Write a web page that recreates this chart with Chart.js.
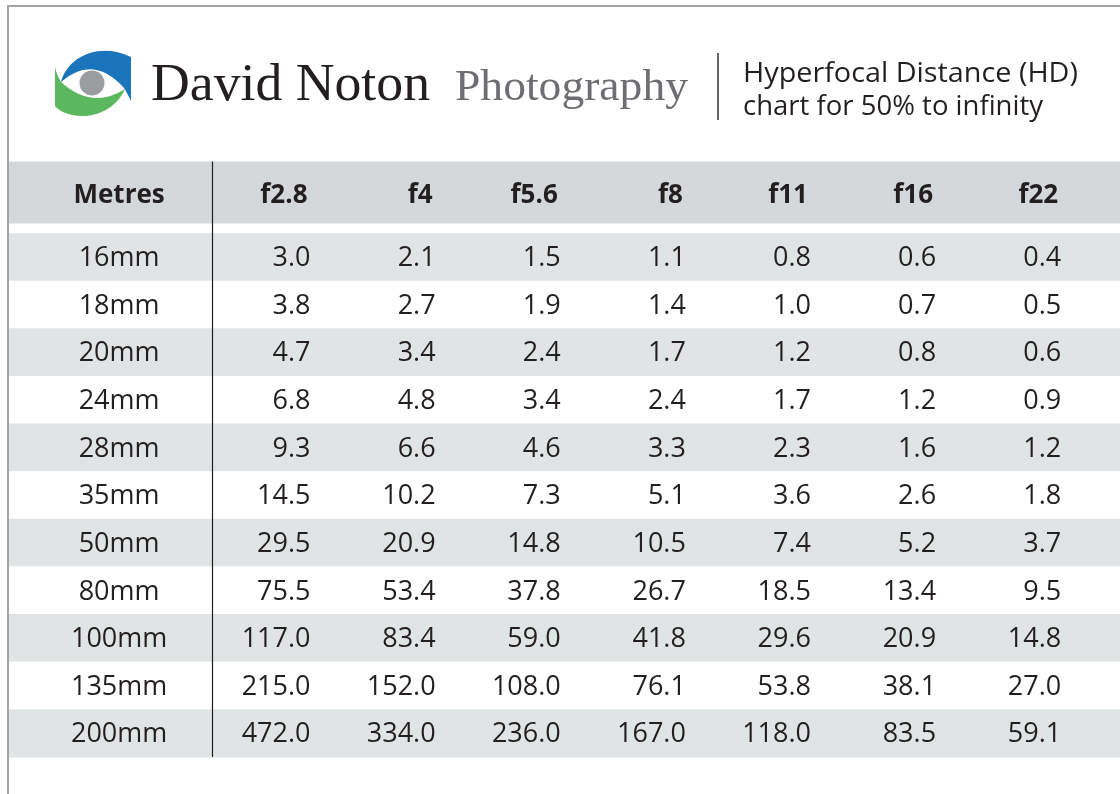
<!DOCTYPE html>
<html>
<head>
<meta charset="utf-8">
<title>Hyperfocal Distance chart</title>
<script src="https://cdn.jsdelivr.net/npm/chart.js@4.4.1/dist/chart.umd.min.js"></script>
<style>
  html, body { margin: 0; padding: 0; background: #fff; }
  body { width: 1120px; height: 794px; position: relative; overflow: hidden; }
  #frame { position: absolute; left: 7px; top: 5px; right: 0; bottom: 0;
           border-top: 2px solid #a3a3a3; border-left: 2px solid #a3a3a3; }
  #table { position: absolute; left: 9px; top: 0; }
  #head { position: absolute; left: 0; top: 0; }
</style>
</head>
<body>
<div id="frame"></div>
<canvas id="table" width="1111" height="794"></canvas>
<svg id="head" width="1120" height="140" xmlns="http://www.w3.org/2000/svg">
  <!-- eye logo -->
  <path d="M61,82 C68,56 100,42 131,57 L131,101 C128,95 126,91 124,88 Q93,54 61,82 Z" fill="#1b75bc"/>
  <path d="M55,67 L55,106 C68,121 110,122 125,89 Q92,110 61,82 C58,77 56,72 55,67 Z" fill="#5cb85f"/>
  <circle cx="92" cy="83" r="12.5" fill="#9b9ca0"/>
  <text x="151" y="100" font-family="Liberation Serif" font-size="52" fill="#231f20"
        textLength="279" lengthAdjust="spacingAndGlyphs">David Noton</text>
  <text x="455" y="100" font-family="Liberation Serif" font-size="45" fill="#6d6e71"
        textLength="233" lengthAdjust="spacingAndGlyphs">Photography</text>
  <line x1="718" y1="53" x2="718" y2="120" stroke="#333" stroke-width="1.5"/>
  <text x="743" y="82" font-family="Open Sans" font-size="27" fill="#231f20"
        textLength="335" lengthAdjust="spacingAndGlyphs">Hyperfocal Distance (HD)</text>
  <text x="743" y="115" font-family="Open Sans" font-size="27" fill="#231f20"
        textLength="300" lengthAdjust="spacingAndGlyphs">chart for 50% to infinity</text>
</svg>
<script>
// --- table data (metres) ---
const cornerLabel = 'Metres';
const focalLengths = ['16mm', '18mm', '20mm', '24mm', '28mm', '35mm', '50mm', '80mm', '100mm', '135mm', '200mm'];
const apertures = ['f2.8', 'f4', 'f5.6', 'f8', 'f11', 'f16', 'f22'];

const hdF28 = [3.0, 3.8, 4.7, 6.8, 9.3, 14.5, 29.5, 75.5, 117.0, 215.0, 472.0];
const hdF4  = [2.1, 2.7, 3.4, 4.8, 6.6, 10.2, 20.9, 53.4, 83.4, 152.0, 334.0];
const hdF56 = [1.5, 1.9, 2.4, 3.4, 4.6, 7.3, 14.8, 37.8, 59.0, 108.0, 236.0];
const hdF8  = [1.1, 1.4, 1.7, 2.4, 3.3, 5.1, 10.5, 26.7, 41.8, 76.1, 167.0];
const hdF11 = [0.8, 1.0, 1.2, 1.7, 2.3, 3.6, 7.4, 18.5, 29.6, 53.8, 118.0];
const hdF16 = [0.6, 0.7, 0.8, 1.2, 1.6, 2.6, 5.2, 13.4, 20.9, 38.1, 83.5];
const hdF22 = [0.4, 0.5, 0.6, 0.9, 1.2, 1.8, 3.7, 9.5, 14.8, 27.0, 59.1];
const columns = [hdF28, hdF4, hdF56, hdF8, hdF11, hdF16, hdF22];

// scale layout in column / row units
const COL_MIN = -1.41, COL_MAX = 7.47;
const ROW_MIN = -5.405, ROW_MAX = 11.275;
const HEADER_ROW = -1.36;
const LABEL_COL = -0.53;
const DIVIDER_COL = 0.21;

const tableText = {
  id: 'tableText',
  afterDatasetsDraw(chart) {
    const { ctx, scales: { x, y } } = chart;
    ctx.save();

    // vertical divider after the focal length column
    const top = y.getPixelForValue(HEADER_ROW - 0.65);
    const bottom = y.getPixelForValue(focalLengths.length - 0.5);
    const dx = Math.round(x.getPixelForValue(DIVIDER_COL)) + 0.5;
    ctx.strokeStyle = '#231f20';
    ctx.lineWidth = 1.2;
    ctx.beginPath();
    ctx.moveTo(dx, top);
    ctx.lineTo(dx, bottom);
    ctx.stroke();

    ctx.fillStyle = '#231f20';
    ctx.textBaseline = 'alphabetic';

    // header row
    ctx.font = 'bold 26px "Open Sans"';
    const hy = y.getPixelForValue(HEADER_ROW) + 10;
    ctx.textAlign = 'center';
    ctx.fillText(cornerLabel, x.getPixelForValue(LABEL_COL), hy);
    ctx.textAlign = 'right';
    apertures.forEach((a, j) => ctx.fillText(a, x.getPixelForValue(j + 1) - 3, hy));

    // body rows
    ctx.font = '27px "Open Sans"';
    focalLengths.forEach((f, i) => {
      const ry = y.getPixelForValue(i) + 9;
      ctx.textAlign = 'center';
      ctx.fillText(f, x.getPixelForValue(LABEL_COL), ry);
      ctx.textAlign = 'right';
      columns.forEach((col, j) => ctx.fillText(col[i].toFixed(1), x.getPixelForValue(j + 1), ry));
    });
    ctx.restore();
  }
};

const ctx = document.getElementById('table').getContext('2d');
new Chart(ctx, {
  type: 'bar',
  data: {
    datasets: [
      {
        label: 'header',
        data: [{ x: [COL_MIN, COL_MAX], y: HEADER_ROW }],
        backgroundColor: '#d5d8da',
        barPercentage: 1.3,
        categoryPercentage: 1,
        grouped: false
      },
      {
        label: 'rows',
        data: focalLengths.map((f, i) => ({ x: [COL_MIN, COL_MAX], y: i })),
        backgroundColor: focalLengths.map((f, i) => (i % 2 === 0 ? '#e1e4e5' : '#ffffff')),
        barPercentage: 1,
        categoryPercentage: 1,
        grouped: false
      }
    ]
  },
  options: {
    indexAxis: 'y',
    responsive: false,
    maintainAspectRatio: false,
    animation: false,
    layout: { padding: 0 },
    scales: {
      x: { type: 'linear', min: COL_MIN, max: COL_MAX, offset: false, display: false },
      y: { type: 'linear', min: ROW_MIN, max: ROW_MAX, reverse: true, offset: false, display: false,
           ticks: { maxTicksLimit: 2 } }
    },
    plugins: { legend: { display: false }, tooltip: { enabled: false } }
  },
  plugins: [tableText]
});
</script>
</body>
</html>
